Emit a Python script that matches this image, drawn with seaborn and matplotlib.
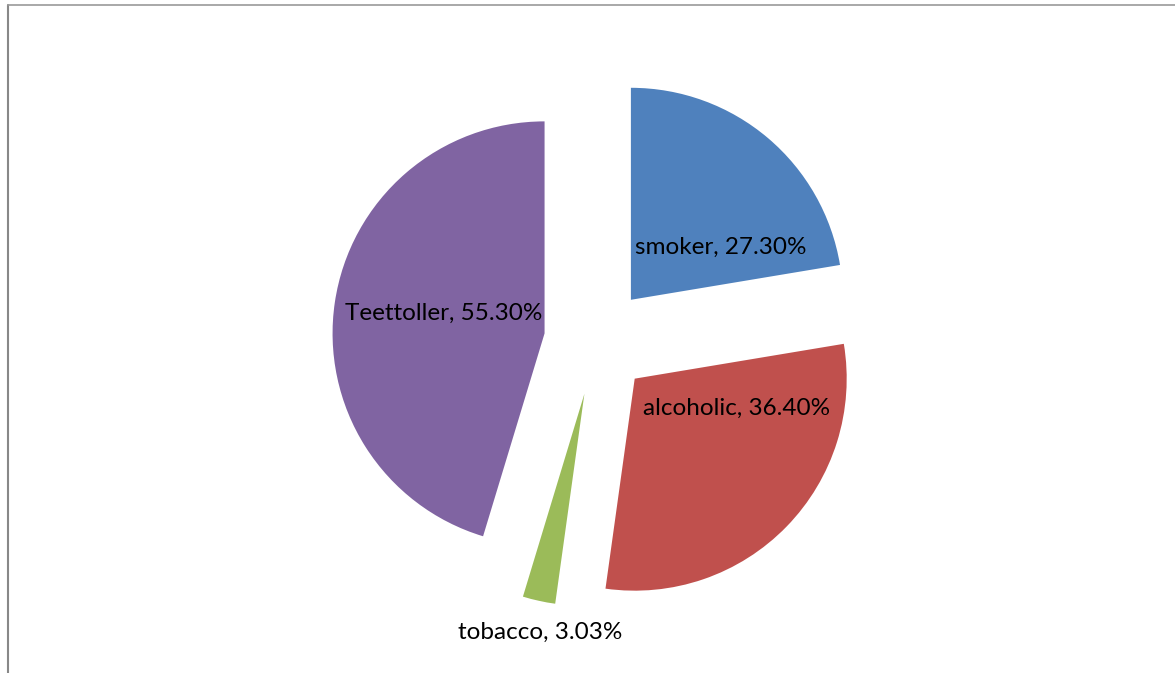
import matplotlib
matplotlib.use("Agg")
import matplotlib.pyplot as plt
import seaborn as sns
from matplotlib.lines import Line2D

categories = ["smoker", "alcoholic", "tobacco", "Teettoller"]
shares = [27.30, 36.40, 3.03, 55.30]
label_texts = ["smoker, 27.30%", "alcoholic, 36.40%", "tobacco, 3.03%", "Teettoller, 55.30%"]

sns.set_theme(style="white")
plt.rcParams['font.family'] = ['Lato', 'DejaVu Sans']
colors = sns.color_palette(["#4F81BD", "#C0504D", "#9BBB59", "#8064A2"])

W, H = 1175, 673
fig = plt.figure(figsize=(W / 100, H / 100), dpi=100)
ax = fig.add_axes([0, 0, 1, 1])

radius = 212
wedges, _ = ax.pie(
    shares,
    colors=colors,
    startangle=90,
    counterclock=False,
    radius=radius,
    center=(596, H - 341),
    explode=[54, 54, 54, 52],
    wedgeprops=dict(linewidth=0),
    frame=True,
)
ax.set_xlim(0, W)
ax.set_ylim(0, H)
ax.set_aspect("equal")
ax.axis("off")

# label offsets from each wedge's tip (pixels, y up)
offsets = [(90, 52), (102, -30), (-44, -239), (-101, 20)]
for w, txt, (dx, dy) in zip(wedges, label_texts, offsets):
    cx, cy = w.center
    ax.text(cx + dx, cy + dy, txt, ha="center", va="center",
            fontsize=17.5, color="black")

# chart border
fig.add_artist(Line2D([8 / W, 8 / W], [0, 1 - 5 / H], color="#888888", lw=1.5))
fig.add_artist(Line2D([8 / W, 1], [1 - 5 / H, 1 - 5 / H], color="#999999", lw=1.2))

fig.savefig("out.png", dpi=100)
